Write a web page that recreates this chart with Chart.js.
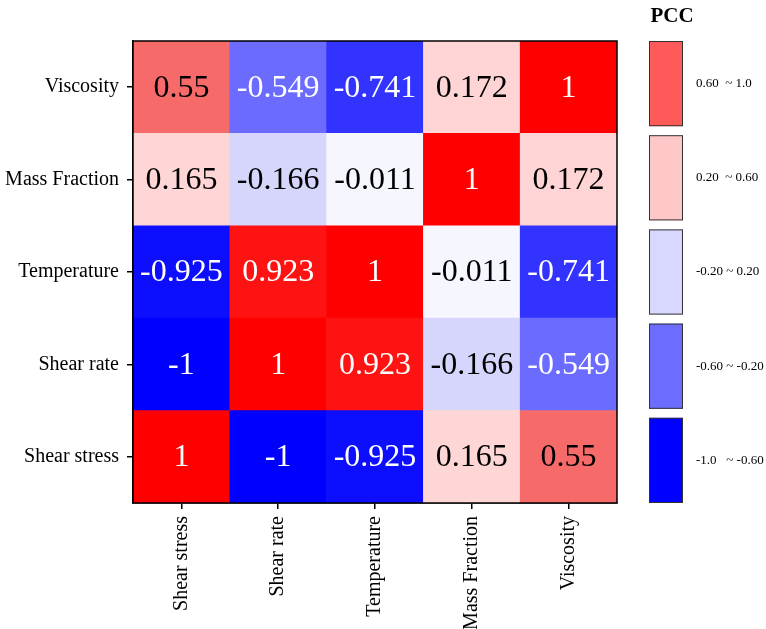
<!DOCTYPE html>
<html>
<head>
<meta charset="utf-8">
<script src="https://cdn.jsdelivr.net/npm/chart.js@4/dist/chart.umd.min.js"></script>
<style>
  html, body { margin: 0; padding: 0; background: #fff; }
  #wrap { width: 766px; height: 629px; }
</style>
</head>
<body>
<div id="wrap"><canvas id="c" width="766" height="629"></canvas></div>
<script>
// Variables, listed bottom row first (y) and left column first (x)
const variables = ['Shear stress', 'Shear rate', 'Temperature', 'Mass Fraction', 'Viscosity'];

// Pearson correlation coefficients, one array per variable (row)
const shearStress  = [1, -1, -0.925, 0.165, 0.55];
const shearRate    = [-1, 1, 0.923, -0.166, -0.549];
const temperature  = [-0.925, 0.923, 1, -0.011, -0.741];
const massFraction = [0.165, -0.166, -0.011, 1, 0.172];
const viscosity    = [0.55, -0.549, -0.741, 0.172, 1];
const rows = [shearStress, shearRate, temperature, massFraction, viscosity];

// Legend classes
const legendTitle  = 'PCC';
const legendLabels = ['0.60  ~ 1.0', '0.20  ~ 0.60', '-0.20 ~ 0.20', '-0.60 ~ -0.20', '-1.0   ~ -0.60'];
const legendColors = ['#ff5a5a', '#ffc8c8', '#d8d8ff', '#6c6cff', '#0000ff'];

// Diverging blue-white-red colour scale (position, [r, g, b])
const colorStops = [
  [-1.00, [0, 0, 255]],
  [-0.75, [48, 48, 255]],
  [-0.55, [107, 107, 255]],
  [-0.17, [213, 213, 252]],
  [ 0.00, [248, 248, 255]],
  [ 0.17, [255, 213, 213]],
  [ 0.55, [247, 106, 106]],
  [ 1.00, [255, 0, 0]]
];
function colorFor(v) {
  for (let i = 1; i < colorStops.length; i++) {
    const [p1, c1] = colorStops[i];
    const [p0, c0] = colorStops[i - 1];
    if (v <= p1) {
      const t = (v - p0) / (p1 - p0);
      const c = c0.map((x, k) => Math.round(x + (c1[k] - x) * t));
      return `rgb(${c[0]},${c[1]},${c[2]})`;
    }
  }
  return 'rgb(255,0,0)';
}
function textColor(v) {
  return (v < -0.5 || v > 0.6) ? '#ffffff' : '#000000';
}

const SERIF = "'Liberation Serif', 'Times New Roman', serif";

const datasets = rows.map((vals, r) => ({
  label: variables[r],
  data: vals.map(() => [r - 0.5, r + 0.5]),
  values: vals,
  backgroundColor: vals.map(colorFor),
  borderWidth: 0,
  grouped: false,
  categoryPercentage: 1.0,
  barPercentage: 1.0
}));

// Coefficient text in each cell
const cellLabels = {
  id: 'cellLabels',
  afterDatasetsDraw(chart) {
    const ctx = chart.ctx;
    ctx.save();
    ctx.font = `32px ${SERIF}`;
    ctx.textAlign = 'center';
    ctx.textBaseline = 'middle';
    chart.data.datasets.forEach((ds, di) => {
      const meta = chart.getDatasetMeta(di);
      meta.data.forEach((el, i) => {
        const v = ds.values[i];
        ctx.fillStyle = textColor(v);
        ctx.fillText(String(v), el.x, (el.y + el.base) / 2 + 1);
      });
    });
    ctx.restore();
  }
};

// Frame around the plot and the class legend on the right
const frameAndLegend = {
  id: 'frameAndLegend',
  afterDraw(chart) {
    const ctx = chart.ctx;
    const a = chart.chartArea;
    ctx.save();
    ctx.strokeStyle = '#000';
    ctx.lineWidth = 1.5;
    ctx.strokeRect(a.left, a.top, a.right - a.left, a.bottom - a.top);

    // legend
    const bx = a.right + 32, bw = 34;
    const n = legendColors.length;
    const gap = 9;
    const bh = ((a.bottom - a.top) - gap * (n - 1)) / n;
    ctx.font = `bold 21px ${SERIF}`;
    ctx.fillStyle = '#000';
    ctx.textAlign = 'center';
    ctx.textBaseline = 'middle';
    ctx.fillText(legendTitle, bx + bw / 2 + 6, 17);
    ctx.font = `13px ${SERIF}`;
    ctx.textAlign = 'left';
    legendColors.forEach((c, i) => {
      const y = a.top + i * (bh + gap);
      ctx.fillStyle = c;
      ctx.fillRect(bx, y, bw, bh);
      ctx.strokeStyle = '#333';
      ctx.lineWidth = 1;
      ctx.strokeRect(bx + 0.5, y + 0.5, bw - 1, bh - 1);
      ctx.fillStyle = '#000';
      ctx.fillText(legendLabels[i], bx + bw + 13, y + bh / 2);
    });
    ctx.restore();
  }
};

new Chart(document.getElementById('c'), {
  type: 'bar',
  data: { labels: variables, datasets },
  options: {
    responsive: false,
    animation: false,
    events: [],
    layout: { padding: { top: 41, right: 149, left: 0, bottom: 0 } },
    plugins: { legend: { display: false }, tooltip: { enabled: false } },
    scales: {
      x: {
        type: 'category',
        offset: true,
        grid: { display: true, drawOnChartArea: false, drawTicks: true, tickLength: 6, color: '#000', lineWidth: 1.5, offset: false },
        border: { display: true, color: '#000', width: 1.5 },
        ticks: { color: '#000', font: { family: SERIF, size: 20 }, minRotation: 90, maxRotation: 90, padding: 7, autoSkip: false },
        afterFit(scale) { scale.height = 126; }
      },
      y: {
        type: 'linear',
        min: -0.5,
        max: 4.5,
        afterBuildTicks(scale) { scale.ticks = variables.map((_, i) => ({ value: i })); },
        grid: { display: true, drawOnChartArea: false, drawTicks: true, tickLength: 6, color: '#000', lineWidth: 1.5 },
        border: { display: true, color: '#000', width: 1.5 },
        ticks: { color: '#000', font: { family: SERIF, size: 20 }, padding: 8, autoSkip: false,
                 callback: (v) => variables[v] },
        afterFit(scale) { scale.width = 133; }
      }
    }
  },
  plugins: [cellLabels, frameAndLegend]
});
</script>
</body>
</html>
